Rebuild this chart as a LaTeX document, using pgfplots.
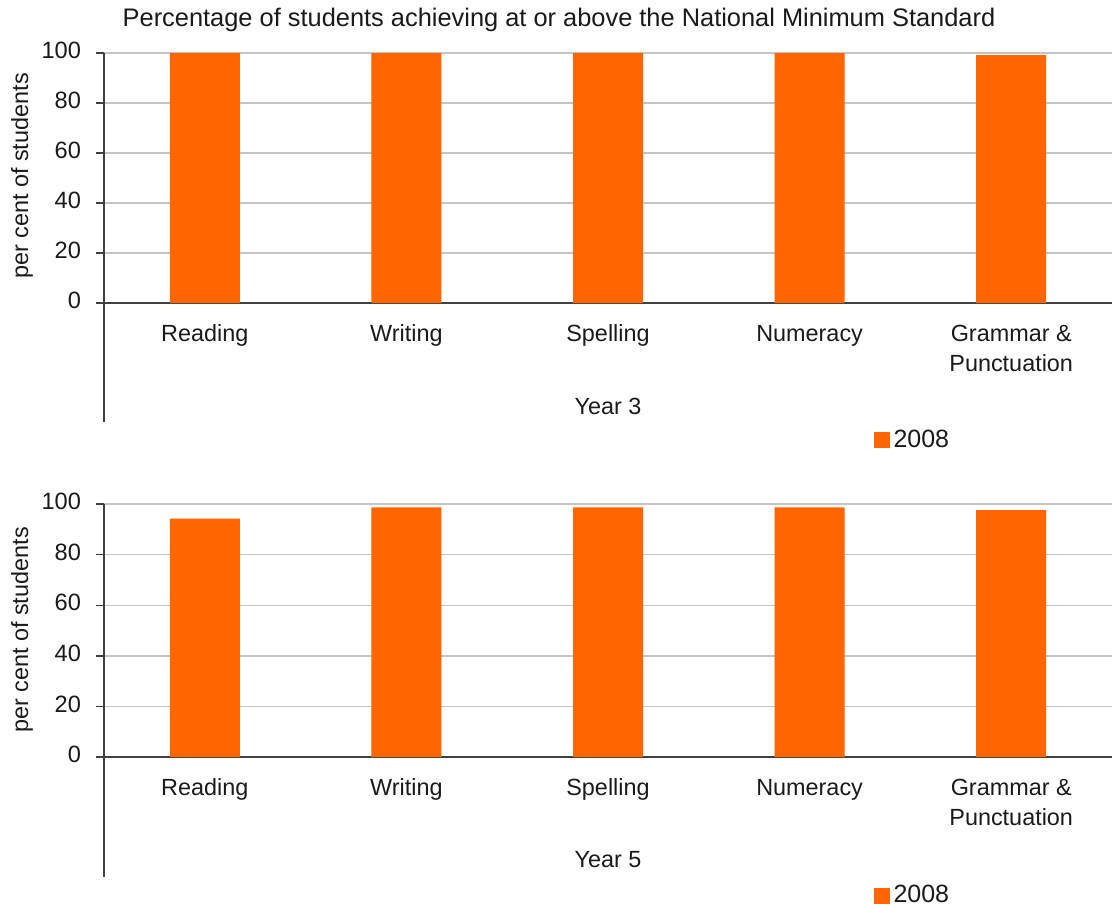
\documentclass[border=0pt]{standalone}
\usepackage{pgfplots}
\pgfplotsset{compat=1.18}
\usepackage{fontspec}
\setmainfont{Liberation Sans}
\definecolor{barorange}{HTML}{FF6600}
\definecolor{gridgray}{HTML}{C4C4C4}
\definecolor{axisgray}{HTML}{404040}
\definecolor{txt}{HTML}{1A1A1A}

\pgfplotsset{
  panel/.style={
    scale only axis,
    width=504pt,
    ybar, bar width=35pt,
    xmin=-0.5, xmax=4.5,
    ymin=0, ymax=100,
    ytick={0,20,...,100},
    xtick=data,
    xticklabels={Reading,Writing,Spelling,Numeracy,{Grammar \&\\Punctuation}},
    xtick style={draw=none},
    typeset ticklabels with strut,
    xticklabel style={align=center, yshift=-1pt, font=\fontsize{11.7}{15}\selectfont, text=txt},
    yticklabel style={xshift=-4pt, font=\fontsize{11.8}{14}\selectfont, text=txt},
    /pgf/number format/assume math mode=true,
    ymajorgrids, grid style={gridgray, line width=0.7pt},
    axis x line*=bottom, axis y line*=left,
    axis line style={axisgray, line width=0.7pt},
    ytick style={axisgray, line width=0.7pt},
    tick align=outside, major tick length=4pt,
    legend style={draw=none, fill=none, at={(0.763,-0.548)}, anchor=west,
      font=\fontsize{12.5}{14}\selectfont, text=txt, inner sep=0pt},
    legend image code/.code={\fill[barorange] (0pt,-4pt) rectangle (8pt,4pt);},
  }
}

\begin{document}
\begin{tikzpicture}[x=0.5pt,y=-0.5pt]
\useasboundingbox (0,0) rectangle (1112,907);

% Year 3
\begin{axis}[panel, at={(52pt,-26.5pt)}, anchor=north west, height=125pt]
\addplot[fill=barorange, draw=none] coordinates {(0,100) (1,100) (2,100) (3,100) (4,99.2)};
\legend{2008}
\end{axis}

% Year 5
\begin{axis}[panel, at={(52pt,-252pt)}, anchor=north west, height=126.5pt]
\addplot[fill=barorange, draw=none] coordinates {(0,94.2) (1,98.7) (2,98.7) (3,98.7) (4,97.6)};
\legend{2008}
\end{axis}

\draw[axisgray, line width=0.7pt] (104,303) -- (104,422);
\draw[axisgray, line width=0.7pt] (104,757) -- (104,877);

\node[font=\fontsize{12.7}{14}\selectfont, text=txt] at (559,20) {Percentage of students achieving at or above the National Minimum Standard};
\node[font=\fontsize{11.7}{14}\selectfont, text=txt] at (608,406) {Year 3};
\node[font=\fontsize{11.7}{14}\selectfont, text=txt] at (608,860) {Year 5};
\node[font=\fontsize{11.7}{14}\selectfont, text=txt, rotate=90] at (22,176) {per cent of students};
\node[font=\fontsize{11.7}{14}\selectfont, text=txt, rotate=90] at (22,630) {per cent of students};
\end{tikzpicture}
\end{document}
